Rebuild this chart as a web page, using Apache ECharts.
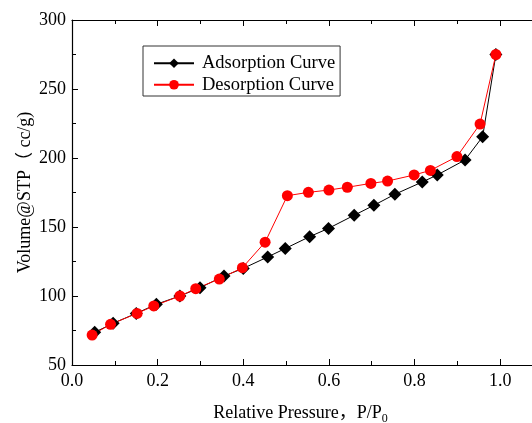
<!DOCTYPE html>
<html>
<head>
<meta charset="utf-8">
<script src="https://cdn.jsdelivr.net/npm/echarts@6/dist/echarts.min.js"></script>
<style>
  html, body { margin: 0; padding: 0; background: #fff; }
  #main { width: 532px; height: 423px; }
</style>
</head>
<body>
<div id="main"></div>
<script>
// adsorption branch (P/P0, cc/g)
var adsP = [0.053, 0.096, 0.150, 0.197, 0.252, 0.299, 0.355, 0.400, 0.457, 0.498, 0.555, 0.599, 0.659, 0.705, 0.754, 0.818, 0.853, 0.918, 0.959, 0.990]
var adsV = [73.7, 80.2, 87.4, 94.0, 100.0, 106.0, 114.5, 120.0, 128.3, 134.4, 143.0, 149.0, 158.5, 165.7, 173.7, 182.6, 187.7, 198.6, 215.4, 275.0]
// desorption branch
var desP = [0.047, 0.090, 0.152, 0.191, 0.252, 0.289, 0.344, 0.398, 0.451, 0.503, 0.552, 0.600, 0.643, 0.698, 0.737, 0.799, 0.837, 0.899, 0.953, 0.990]
var desV = [71.7, 79.5, 87.4, 92.8, 100.0, 105.3, 112.3, 120.5, 139.0, 172.7, 175.1, 176.8, 178.8, 181.6, 183.3, 187.7, 191.0, 201.0, 224.6, 275.0]
var xTicks = [0, 0.2, 0.4, 0.6, 0.8, 1.0]

function pairs(xs, ys) {
  return xs.map(function (x, i) { return [x, ys[i]] })
}

var font = '"Liberation Serif", "Times New Roman", "Noto Sans CJK SC", serif'
var chart = echarts.init(document.getElementById('main'))

var axisLine = { show: true, lineStyle: { color: '#000', width: 1.2 } }
var option = {
  animation: false,
  textStyle: { fontFamily: font },
  grid: { left: 72, top: 20, right: -11, bottom: 58, containLabel: false, outerBoundsMode: 'none' },
  legend: {
    left: 143,
    top: 46,
    orient: 'vertical',
    itemWidth: 40,
    itemHeight: 12,
    itemGap: 3,
    padding: [8, 5, 2, 10],
    borderColor: '#333',
    borderWidth: 1,
    textStyle: { fontFamily: font, fontSize: 18.5, color: '#000', padding: [0, 0, 0, 3] },
    data: ['Adsorption Curve', 'Desorption Curve']
  },
  xAxis: [
    {
      type: 'value',
      min: 0,
      max: 1.1,
      interval: 0.2,
      axisLine: axisLine,
      axisTick: { inside: true, length: 6, lineStyle: { color: '#000' } },
      minorTick: { show: true, splitNumber: 2, length: 4, lineStyle: { color: '#000' } },
      splitLine: { show: false },
      axisLabel: {
        color: '#000', fontSize: 18, fontFamily: font, margin: 7,
        formatter: function (v) { return xTicks.indexOf(Math.round(v * 10) / 10) >= 0 ? v.toFixed(1) : '' }
      },
      name: '{a|Relative Pressure，P/P}{s|0}',
      nameLocation: 'middle',
      nameGap: 36,
      nameMoveOverlap: false,
      nameTextStyle: {
        padding: [0, 14, 0, 0],
        rich: {
          a: { fontFamily: font, fontSize: 18, color: '#000' },
          s: { fontFamily: font, fontSize: 12, color: '#000', padding: [12, 0, 0, 0] }
        }
      }
    },
    {
      type: 'value',
      position: 'top',
      min: 0,
      max: 1.1,
      interval: 0.2,
      axisLine: axisLine,
      axisTick: { inside: true, length: 6, lineStyle: { color: '#000' } },
      minorTick: { show: true, splitNumber: 2, length: 4, lineStyle: { color: '#000' } },
      splitLine: { show: false },
      axisLabel: { show: false }
    }
  ],
  yAxis: {
    type: 'value',
    min: 50,
    max: 300,
    interval: 50,
    axisLine: axisLine,
    axisTick: { inside: true, length: 6, lineStyle: { color: '#000' } },
    minorTick: { show: true, splitNumber: 2, length: 4, lineStyle: { color: '#000' } },
    splitLine: { show: false },
    axisLabel: { color: '#000', fontSize: 18, fontFamily: font, margin: 6 },
    name: 'Volume@STP（ cc/g)',
    nameLocation: 'middle',
    nameGap: 38,
    nameMoveOverlap: false,
    nameTextStyle: { fontFamily: font, fontSize: 18, color: '#000' }
  },
  series: [
    {
      name: 'Adsorption Curve',
      type: 'line',
      data: pairs(adsP, adsV),
      symbol: 'diamond',
      symbolSize: 13,
      lineStyle: { color: '#000', width: 1 },
      itemStyle: { color: '#000' }
    },
    {
      name: 'Desorption Curve',
      type: 'line',
      data: pairs(desP, desV),
      symbol: 'circle',
      symbolSize: 11,
      lineStyle: { color: '#ff0000', width: 1 },
      itemStyle: { color: '#ff0000' }
    }
  ]
}
chart.setOption(option)
</script>
</body>
</html>
